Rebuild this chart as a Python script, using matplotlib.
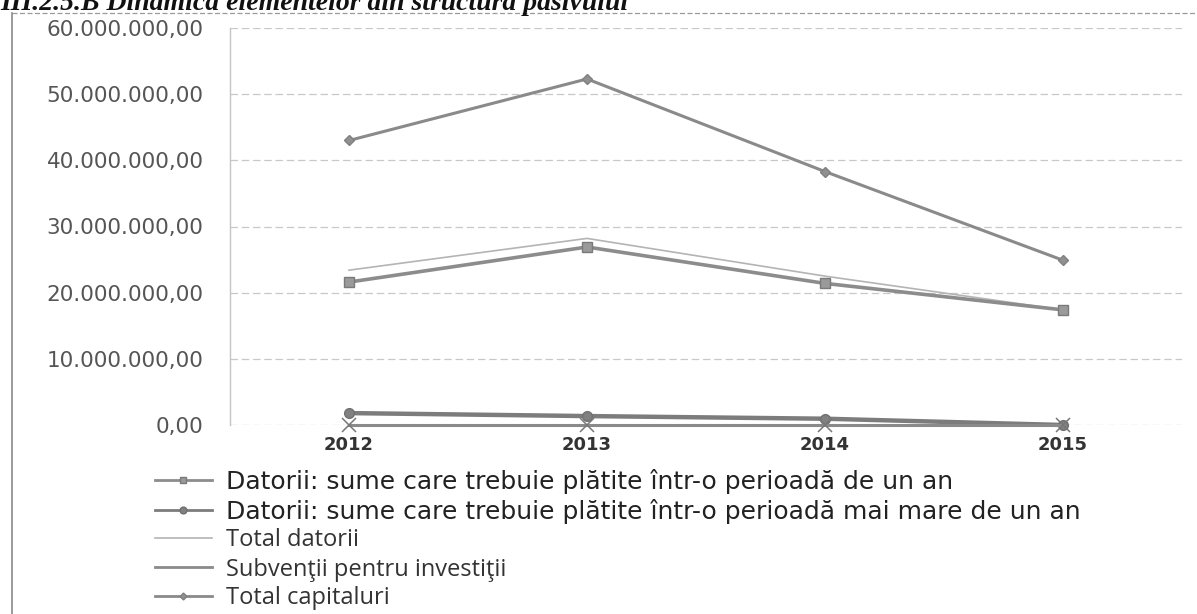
import matplotlib
matplotlib.use("Agg")
import matplotlib.pyplot as plt
from matplotlib.lines import Line2D
from matplotlib.ticker import FuncFormatter

# Years and liability structure values (lei)
years = ["2012", "2013", "2014", "2015"]
datorii_sub_un_an = [21600000, 26900000, 21400000, 17400000]
datorii_peste_un_an = [1800000, 1350000, 950000, 0]
total_datorii = [23400000, 28200000, 22500000, 17400000]
subventii = [0, 0, 0, 0]
total_capitaluri = [43000000, 52300000, 38300000, 24900000]

labels = [
    "Datorii: sume care trebuie plătite într-o perioadă de un an",
    "Datorii: sume care trebuie plătite într-o perioadă mai mare de un an",
    "Total datorii",
    "Subvenţii pentru investiţii",
    "Total capitaluri",
]
title = "III.2.5.B Dinamica elementelor din structura pasivului"

W, H = 1197, 614
fig = plt.figure(figsize=(W / 100, H / 100), dpi=100)
fig.patch.set_facecolor("white")

# chart title, partly above the top edge of the page
fig.text(0, 1 - 10 / H, title, fontsize=20, fontweight="bold",
         fontstyle="italic", family="Liberation Serif", color="#111111",
         va="baseline", ha="left")

# chart area frame
fig.add_artist(Line2D([12 / W, 1.0], [1 - 13 / H, 1 - 13 / H],
                      transform=fig.transFigure, color="#9a9a9a", lw=0.9,
                      linestyle=(0, (4, 2))))
fig.add_artist(Line2D([12 / W, 12 / W], [0, 1 - 13 / H],
                      transform=fig.transFigure, color="#8a8a8a", lw=1.2))

ax = fig.add_axes([230 / W, 1 - 425 / H, (1182 - 230) / W, (425 - 28) / H])
x = list(range(len(years)))

ax.plot(x, datorii_sub_un_an, color="#8c8c8c", lw=2.6, marker="s",
        markersize=7, markerfacecolor="#9a9a9a", markeredgecolor="#7a7a7a",
        label=labels[0], zorder=4)
ax.plot(x, datorii_peste_un_an, color="#7c7c7c", lw=3.2, marker="o",
        markersize=7, markerfacecolor="#808080", markeredgecolor="#707070",
        label=labels[1], zorder=4, clip_on=False)
ax.plot(x, total_datorii, color="#b4b4b4", lw=1.2, label=labels[2], zorder=3)
ax.plot(x, subventii, color="#8a8a8a", lw=2.2, marker="x", markersize=10,
        markeredgewidth=1.1, markeredgecolor="#777777", label=labels[3],
        zorder=5, clip_on=False)
ax.plot(x, total_capitaluri, color="#8a8a8a", lw=2.2, marker="D",
        markersize=5, markerfacecolor="#909090", markeredgecolor="#808080",
        label=labels[4], zorder=4)

ax.set_xlim(-0.5, len(years) - 0.5)
ax.set_ylim(0, 60000000)
ax.set_yticks(range(0, 60000001, 10000000))


def ro_format(v, pos):
    s = f"{v:,.2f}"
    return s.replace(",", "X").replace(".", ",").replace("X", ".")


ax.yaxis.set_major_formatter(FuncFormatter(ro_format))
ax.set_xticks(x)
ax.set_xticklabels(years, fontsize=13, fontweight="bold", color="#333333")
ax.tick_params(axis="y", length=0, pad=19, labelsize=15.5, labelcolor="#555555")
ax.tick_params(axis="x", length=0, pad=8)

ax.grid(axis="y", color="#c8c8c8", lw=0.9, linestyle=(0, (6, 3)))
ax.set_axisbelow(True)
for side in ["top", "right", "bottom"]:
    ax.spines[side].set_visible(False)
ax.spines["left"].set_color("#c4c4c4")
ax.spines["left"].set_linewidth(1.0)

leg = ax.legend(loc="upper left", bbox_to_anchor=(142 / W, 1 - 456 / H),
                bbox_transform=fig.transFigure, frameon=False,
                handlelength=2.3, handletextpad=0.55, labelspacing=0.2,
                fontsize=18, borderpad=0, markerscale=0.7)
handles = leg.legend_handles
for h in handles:
    h.set_linewidth(min(h.get_linewidth(), 2.0))
handles[3].set_marker("")
texts = leg.get_texts()
for t in texts[:2]:
    t.set_color("#222222")
for t in texts[2:]:
    t.set_fontsize(17)
    t.set_family("Open Sans")
    t.set_color("#333333")

fig.savefig("out.png", dpi=100, facecolor="white")
